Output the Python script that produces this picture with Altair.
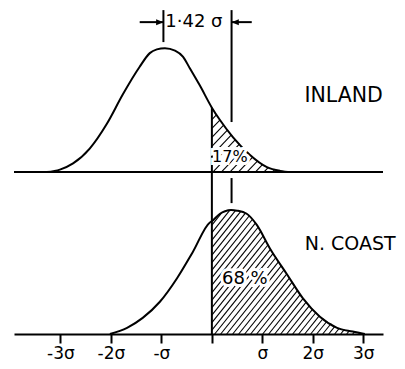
import altair as alt
import pandas as pd
import numpy as np

# ---- data (x in sigma units, heights relative to peak) ----
X_TICKS = [-3, -2, -1, 0, 1, 2, 3]
TICK_LABELS = ["-3σ", "-2σ", "-σ", "", "σ", "2σ", "3σ"]

INLAND_X = [-3.27, -3.01, -2.75, -2.42, -2.08, -1.76, -1.43, -1.23, -1.09, -0.93, -0.73,
            -0.57, -0.44, -0.24, 0.0, 0.16, 0.42, 0.75, 1.09, 1.35, 1.58]
INLAND_H = [0.0, 0.02, 0.07, 0.19, 0.39, 0.63, 0.85, 0.96, 0.99, 1.0, 0.98,
            0.93, 0.84, 0.70, 0.52, 0.42, 0.28, 0.14, 0.04, 0.01, 0.0]

COAST_X = [-2.02, -1.68, -1.37, -1.03, -0.69, -0.38, -0.04, 0.0, 0.16, 0.26, 0.38, 0.50,
           0.69, 0.89, 1.15, 1.49, 1.80, 2.14, 2.48, 2.79, 3.03]
COAST_H = [0.0, 0.05, 0.13, 0.26, 0.45, 0.66, 0.90, 0.91, 0.97, 0.99, 1.0, 0.995,
           0.97, 0.88, 0.69, 0.48, 0.29, 0.14, 0.05, 0.02, 0.0]

INLAND_MEAN = -0.96
COAST_MEAN = 0.39
SHIFT_LABEL = "1·42 σ"
PANEL_LABELS = ["INLAND", "N. COAST"]
PCT_LABELS = ["17%", "68 %"]

# ---- layout ----
W, H = 369, 326
XDOM = [-3.92, 3.39]
YDOM = [0.0, 2.63]
TOP_BASE = 1.306
FONT = "DejaVu Sans"

xs = alt.Scale(domain=XDOM, nice=False, zero=False)
ys = alt.Scale(domain=YDOM, nice=False, zero=False)

curves = pd.DataFrame(
    [{"x": x, "y": TOP_BASE + h, "s": "inland"} for x, h in zip(INLAND_X, INLAND_H)]
    + [{"x": x, "y": h, "s": "coast"} for x, h in zip(COAST_X, COAST_H)]
)

PX_X = W / (XDOM[1] - XDOM[0])
PX_Y = H / (YDOM[1] - YDOM[0])


def hatch(xv, hv, base, spacing, slope):
    u = np.array(xv) * PX_X
    v = np.array(hv) * PX_Y
    u0 = 0.0
    u_end = u[-1]
    grid = np.arange(u0, u_end + 0.25, 0.25)
    f = np.interp(grid, u, v)
    rows = []
    c = u0 - v.max() / slope
    while c < u_end:
        us = max(u0, c)
        vs = slope * (us - c)
        fs = np.interp(us, u, v)
        if vs < fs - 0.5:
            g = grid[grid >= us]
            fg = f[grid >= us]
            line = slope * (g - c)
            idx = np.where(line >= fg)[0]
            if len(idx):
                ue = g[idx[0]]
                ve = slope * (ue - c)
                rows.append({"x": float(us / PX_X), "y": float(base + vs / PX_Y),
                             "x2": float(ue / PX_X), "y2": float(base + ve / PX_Y)})
        c += spacing
    return rows


hatch_df = pd.DataFrame(hatch(INLAND_X, INLAND_H, TOP_BASE, 8.5, 1.05)
                        + hatch(COAST_X, COAST_H, 0.0, 6.0, 1.25))

X = lambda f="x:Q": alt.X(f, scale=xs)
Y = lambda f="y:Q": alt.Y(f, scale=ys, axis=None)

hatch_layer = alt.Chart(hatch_df).mark_rule(color="black", strokeWidth=1.1).encode(
    x=X(), y=Y(), x2="x2:Q", y2="y2:Q")

label_expr = "[" + ",".join("'%s'" % t for t in TICK_LABELS) + "][datum.value + 3]"
curve_layer = alt.Chart(curves).mark_line(color="black", strokeWidth=2, interpolate="monotone").encode(
    x=alt.X("x:Q", scale=xs, axis=alt.Axis(
        values=X_TICKS, labelExpr=label_expr,
        grid=False, domainColor="black", domainWidth=2, tickColor="black", tickWidth=2,
        tickSize=9, labelFontSize=17, labelFont=FONT, labelColor="black",
        labelPadding=2, title=None)),
    y=Y(),
    detail="s:N")

top_base = alt.Chart(pd.DataFrame({"y": [TOP_BASE]})).mark_rule(color="black", strokeWidth=2).encode(
    x=alt.value(0), x2=alt.value(W), y=Y())

inland_at0 = float(np.interp(0.0, INLAND_X, INLAND_H))
rules_df = pd.DataFrame([
    {"x": 0.0, "y": 0.0, "y2": TOP_BASE + inland_at0},
    {"x": INLAND_MEAN, "y": 2.355, "y2": 2.613},
    {"x": COAST_MEAN, "y": 1.71, "y2": 2.613},
    {"x": COAST_MEAN, "y": 1.056, "y2": 1.258},
])
vrules = alt.Chart(rules_df).mark_rule(color="black", strokeWidth=2).encode(
    x=X(), y=Y(), y2="y2:Q")

ARROW_Y = 2.516
arrow_lines = alt.Chart(pd.DataFrame([
    {"x": INLAND_MEAN - 0.47, "x2": INLAND_MEAN, "y": ARROW_Y},
    {"x": COAST_MEAN + 0.40, "x2": COAST_MEAN, "y": ARROW_Y},
])).mark_rule(color="black", strokeWidth=2).encode(x=X(), x2="x2:Q", y=Y())

head_r = alt.Chart(pd.DataFrame([{"x": INLAND_MEAN, "y": ARROW_Y}])).mark_point(
    filled=True, color="black", opacity=1, size=40, shape="M0,0L-2.3,-0.95L-2.3,0.95Z"
).encode(x=X(), y=Y())
head_l = alt.Chart(pd.DataFrame([{"x": COAST_MEAN, "y": ARROW_Y}])).mark_point(
    filled=True, color="black", opacity=1, size=40, shape="M0,0L2.3,-0.95L2.3,0.95Z"
).encode(x=X(), y=Y())


def label(x, y, t, fs, halo=False):
    df = pd.DataFrame([{"x": x, "y": y, "t": t}])
    layers = []
    if halo:
        layers.append(alt.Chart(df).mark_text(font=FONT, fontSize=fs, color="white", stroke="white",
                                              strokeWidth=6, baseline="middle").encode(
            x=X(), y=Y(), text="t:N"))
    layers.append(alt.Chart(df).mark_text(font=FONT, fontSize=fs, color="black",
                                          baseline="middle").encode(x=X(), y=Y(), text="t:N"))
    return layers


texts = (label(-0.356, 2.516, SHIFT_LABEL, 18)
         + label(2.61, 1.919, PANEL_LABELS[0], 20.5)
         + label(2.74, 0.726, PANEL_LABELS[1], 19)
         + label(0.356, 1.427, PCT_LABELS[0], 16, halo=True)
         + label(0.653, 0.444, PCT_LABELS[1], 18, halo=True))

chart = alt.layer(
    hatch_layer, curve_layer, top_base, vrules, arrow_lines, head_r, head_l, *texts
).properties(
    width=W, height=H,
    autosize=alt.AutoSizeParams(type="none"),
    padding={"left": 6, "top": 0, "right": 14, "bottom": 27},
    background="white",
).configure_view(stroke=None)

chart.save("out.html", embed_options={"renderer": "svg", "actions": False})
